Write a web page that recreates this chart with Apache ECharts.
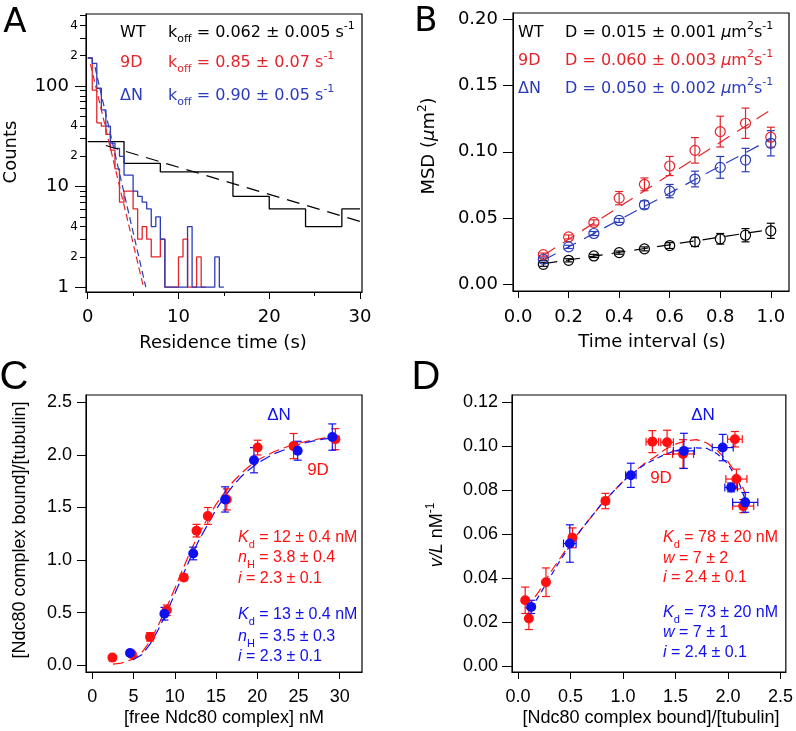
<!DOCTYPE html>
<html><head><meta charset="utf-8">
<script src="https://cdn.jsdelivr.net/npm/echarts@6/dist/echarts.min.js"></script>
<style>html,body{margin:0;padding:0;background:#fff}#c{width:796px;height:731px}</style>
</head><body><div id="c"></div>
<script>
// ================= DATA =================
// Panel A: residence time histograms (bin edges in s, counts per bin)
const wtEdges = [0,4,8,12,16,20,24,28,30];
const wtCounts = [28,17,14,14,8,6,4,6];
const d9Edges = [0,0.5,1,1.5,2,2.5,3,3.5,4,4.5,5,5.5,6,6.5,7,7.5,8,8.5,9,9.5,10,10.5,11,11.5,12,12.5,13];
const d9Counts = [190,91,43,40,33,23,15,7,9,9,6,3,4,3,2,2,3,1,1,1,2,3,1,1,2,1];
const dnEdges = [0,0.5,1,1.5,2,2.5,3,3.5,4,4.5,5,5.5,6,6.5,7,7.5,8,8.5,9,9.5,10,10.5,11,11.5,12,12.5,13,13.5,14,14.5,15];
const dnCounts = [190,168,95,58,40,27,24,20,13,13,9,8,7,6,4,5,3,1,1,1,1,1,4,1,1,1,1,1,2,1];
const wtFitA = [[2,25.6],[30,4.5]];
const d9FitA = [[0.3,165],[6.15,1]];
const dnFitA = [[0.8,154],[6.4,1]];
const aXTicks = [0,10,20,30];
const aXMinor = [5,15,25];
const aYMajor = [1,10,100];
const aYMinorLabels = [2,4,20,40,200,400];
const aYMinorTicks = [2,3,4,5,6,7,8,9,20,30,40,50,60,70,80,90,200,300,400,500];

// Panel B: MSD vs time interval
const msdTime = [0.1,0.2,0.3,0.4,0.5,0.6,0.7,0.8,0.9,1.0];
const msdWT = [0.0153,0.0183,0.0216,0.0241,0.0269,0.0294,0.0322,0.0345,0.0372,0.0405];
const msdWTErr = [0.0015,0.0012,0.0012,0.0012,0.0015,0.0022,0.0035,0.004,0.005,0.0057];
const msd9D = [0.0226,0.0359,0.0468,0.0651,0.0755,0.0893,0.1011,0.1152,0.1215,0.111];
const msd9DErr = [0.0012,0.0015,0.002,0.005,0.0048,0.0072,0.0096,0.0116,0.0114,0.0075];
const msdDN = [0.0191,0.0284,0.0385,0.0483,0.0601,0.0704,0.0795,0.0883,0.0938,0.1064];
const msdDNErr = [0.001,0.0012,0.0015,0.0015,0.003,0.005,0.0059,0.0082,0.0088,0.0095];
const wtFitB = [[0.1,0.0157],[1.0,0.0415]];
const d9FitB = [[0.1,0.022],[1.0,0.1315]];
const dnFitB = [[0.1,0.0183],[1.0,0.1095]];
const bXTicks = [0,0.2,0.4,0.6,0.8,1.0];
const bYTicks = [0,0.05,0.1,0.15,0.2];

// Panel C: binding curve
const cFree9D = [2.43,4.8,7.0,9.03,11.09,12.63,14.0,16.3,20.04,24.4,29.47];
const cBound9D = [0.073,0.104,0.27,0.523,0.834,1.28,1.42,1.577,2.07,2.084,2.15];
const cErr9D = [0.015,0.015,0.04,0.05,0.03,0.06,0.08,0.1,0.07,0.12,0.1];
const cFreeDN = [4.57,8.74,12.23,16.1,19.6,24.9,29.1];
const cBoundDN = [0.117,0.49,1.063,1.577,1.95,2.04,2.17];
const cErrDN = [0.01,0.06,0.06,0.12,0.12,0.09,0.125];
const cFit9DX = [2.5,3.5,5,6,7,8,9,10,11,12,13,14,15,16,17,18,19,20,22,24,26,28,30];
const cFit9DY = [0.01,0.02,0.06,0.12,0.23,0.38,0.55,0.73,0.92,1.1,1.26,1.4,1.53,1.64,1.74,1.82,1.89,1.95,2.03,2.09,2.13,2.16,2.18];
const cFitDNX = [4.9,6,7,8,9,10,11,12,13,14,15,16,17,18,19,20,22,24,26,28,30];
const cFitDNY = [0.05,0.1,0.2,0.34,0.5,0.68,0.86,1.04,1.2,1.34,1.48,1.6,1.7,1.79,1.86,1.92,2.01,2.07,2.12,2.15,2.17];
const cXTicks = [0,5,10,15,20,25,30];
const cYTicks = [0,0.5,1.0,1.5,2.0,2.5];

// Panel D: Scatchard-type plot
const dX9D = [0.069,0.104,0.267,0.519,0.833,1.28,1.42,1.572,2.066,2.08,2.145];
const dY9D = [0.030,0.0217,0.0382,0.0584,0.0751,0.1021,0.1018,0.0965,0.1032,0.0851,0.0728];
const dXErr9D = [0.01,0.01,0.02,0.03,0.03,0.06,0.06,0.1,0.07,0.1,0.1];
const dYErr9D = [0.006,0.005,0.0065,0.0045,0.0035,0.005,0.0055,0.0065,0.0035,0.0045,0.003];
const dXDN = [0.126,0.494,1.075,1.58,1.95,2.03,2.164];
const dYDN = [0.027,0.0558,0.0868,0.0979,0.0994,0.0813,0.0745];
const dXErrDN = [0.015,0.06,0.05,0.1,0.1,0.06,0.12];
const dYErrDN = [0.003,0.0085,0.0055,0.008,0.006,0.002,0.0045];
const dFit9DX = [0.08,0.2,0.3,0.4,0.5,0.6,0.7,0.8,0.9,1.0,1.1,1.2,1.3,1.4,1.5,1.6,1.7,1.8,1.9,2.0,2.1,2.17];
const dFit9DY = [0.026,0.034,0.042,0.049,0.056,0.062,0.068,0.074,0.079,0.084,0.088,0.092,0.095,0.0985,0.101,0.1025,0.103,0.1015,0.098,0.093,0.086,0.078];
const dFitDNX = [0.12,0.2,0.3,0.4,0.5,0.6,0.7,0.8,0.9,1.0,1.1,1.2,1.3,1.4,1.5,1.6,1.7,1.8,1.9,2.0,2.1,2.17];
const dFitDNY = [0.026,0.032,0.04,0.048,0.055,0.062,0.068,0.074,0.079,0.084,0.088,0.0915,0.094,0.0963,0.098,0.099,0.0993,0.099,0.0965,0.092,0.084,0.075];
const dXTicks = [0,0.5,1.0,1.5,2.0,2.5];
const dYTicks = [0,0.02,0.04,0.06,0.08,0.10,0.12];

// ================= STYLE =================
const FA = 'DejaVu Sans', FC = 'Liberation Sans';
const RED_AB = '#e3242b', BLUE_AB = '#2a3cb8';
const RED_CD = '#ff1010', BLUE_CD = '#1010ee';

function stepData(edges, counts) {
  return edges.map((e, i) => [e, counts[Math.min(i, counts.length - 1)]]);
}
function zip(xs, ys) { return xs.map((x, i) => [x, ys[i]]); }

function valAxis(o) {
  return {
    type: 'value', gridIndex: o.grid, min: o.min, max: o.max, position: o.pos,
    splitLine: {show: false},
    axisLine: {show: o.line !== false, onZero: false, lineStyle: {color: '#000', width: 1}},
    axisTick: {show: true, inside: false, length: o.tickLen, customValues: o.ticks, lineStyle: {color: '#000', width: 1}},
    axisLabel: o.labels ? {show: true, customValues: o.labels, formatter: o.fmt, margin: o.margin,
      color: '#000', fontFamily: o.ff, fontSize: o.fs} : {show: false}
  };
}

const xAxes = [
  valAxis({grid:0, pos:'bottom', min:-0.19, max:30.22, ticks:aXTicks, labels:aXTicks, tickLen:7, fmt:v=>String(v), margin:16, ff:FA, fs:18}),
  valAxis({grid:0, pos:'bottom', min:-0.19, max:30.22, ticks:aXMinor, tickLen:4, line:false}),
  valAxis({grid:1, pos:'bottom', min:-0.02, max:1.072, ticks:bXTicks, labels:bXTicks, tickLen:7, fmt:v=>v.toFixed(1), margin:17, ff:FA, fs:18}),
  valAxis({grid:2, pos:'bottom', min:-0.77, max:32.7, ticks:cXTicks, labels:cXTicks, tickLen:7, fmt:v=>String(v), margin:16, ff:FC, fs:18}),
  valAxis({grid:3, pos:'bottom', min:-0.0566, max:2.551, ticks:dXTicks, labels:dXTicks, tickLen:7, fmt:v=>v.toFixed(1), margin:16, ff:FC, fs:18})
];
const lg = v => Math.log10(v);
const yAxes = [
  {type:'log', logBase:10, gridIndex:0, min:0.895, max:520, position:'left', show:false},
  valAxis({grid:0, pos:'left', min:lg(0.895), max:lg(520), ticks:aYMajor.map(lg), labels:aYMajor.map(lg), tickLen:11,
    fmt:v=>String(Math.round(Math.pow(10, v))), margin:17, ff:FA, fs:18}),
  valAxis({grid:0, pos:'left', min:lg(0.895), max:lg(520), ticks:aYMinorTicks.map(lg), labels:aYMinorLabels.map(lg), tickLen:6,
    fmt:v=>String(Math.round(Math.pow(10, v))).charAt(0), margin:8, ff:FA, fs:12, line:false}),
  valAxis({grid:1, pos:'left', min:-0.0048, max:0.2045, ticks:bYTicks, labels:bYTicks, tickLen:10, fmt:v=>v.toFixed(2), margin:15, ff:FA, fs:18}),
  valAxis({grid:2, pos:'left', min:-0.064, max:2.57, ticks:cYTicks, labels:cYTicks, tickLen:9, fmt:v=>v.toFixed(1), margin:14, ff:FC, fs:18}),
  valAxis({grid:3, pos:'left', min:-0.0026, max:0.1233, ticks:dYTicks, labels:dYTicks, tickLen:10, fmt:v=>v.toFixed(2), margin:14, ff:FC, fs:18})
];

function lineSeries(xi, yi, data, color, width, dash, extra) {
  return Object.assign({
    type:'line', xAxisIndex:xi, yAxisIndex:yi, data, symbol:'none', showSymbol:false, silent:true,
    lineStyle:{color, width, type: dash || 'solid'}, itemStyle:{color}, animation:false, z:2
  }, extra || {});
}
function errorBars(xi, yi, xs, ys, xerr, yerr, color, cap, lw) {
  const data = xs.map((x, i) => [x, ys[i], xerr ? xerr[i] : 0, yerr ? yerr[i] : 0]);
  return {
    type:'custom', xAxisIndex:xi, yAxisIndex:yi, data, silent:true, z:3,
    dimensions:['x','y','ex','ey'], encode:{x:0, y:1},
    renderItem(params, api) {
      const x = api.value(0), y = api.value(1), ex = api.value(2), ey = api.value(3);
      const st = {stroke: color, lineWidth: lw || 1.2, fill: null};
      const ch = [];
      const L = (a, b) => ch.push({type:'line', shape:{x1:a[0], y1:a[1], x2:b[0], y2:b[1]}, style:st});
      if (ey > 0) {
        const a = api.coord([x, y + ey]), b = api.coord([x, y - ey]);
        L(a, b); L([a[0]-cap, a[1]], [a[0]+cap, a[1]]); L([b[0]-cap, b[1]], [b[0]+cap, b[1]]);
      }
      if (ex > 0) {
        const a = api.coord([x - ex, y]), b = api.coord([x + ex, y]);
        L(a, b); L([a[0], a[1]-cap], [a[0], a[1]+cap]); L([b[0], b[1]-cap], [b[0], b[1]+cap]);
      }
      return {type:'group', children: ch};
    }
  };
}
function scatter(xi, yi, xs, ys, color, open, size) {
  return {
    type:'scatter', xAxisIndex:xi, yAxisIndex:yi, data: zip(xs, ys), symbol:'circle', symbolSize:size, silent:true, z:4,
    itemStyle: open ? {color:'rgba(0,0,0,0)', borderColor:color, borderWidth:1.2, opacity:1}
                    : {color:color, borderWidth:0, opacity:1}
  };
}

const series = [
  // A
  lineSeries(0, 0, stepData(wtEdges, wtCounts), '#000', 1.3, null, {step:'end'}),
  lineSeries(0, 0, stepData(d9Edges, d9Counts), RED_AB, 1.3, null, {step:'end'}),
  lineSeries(0, 0, stepData(dnEdges, dnCounts), BLUE_AB, 1.3, null, {step:'end'}),
  lineSeries(0, 0, wtFitA, '#000', 1.2, [13,8]),
  lineSeries(0, 0, d9FitA, RED_AB, 1.2, [7,4]),
  lineSeries(0, 0, dnFitA, BLUE_AB, 1.2, [7,4]),
  // B
  lineSeries(2, 3, wtFitB, '#000', 1.2, [14,9]),
  lineSeries(2, 3, d9FitB, RED_AB, 1.2, [14,9]),
  lineSeries(2, 3, dnFitB, BLUE_AB, 1.2, [14,9]),
  errorBars(2, 3, msdTime, msdWT, null, msdWTErr, '#000', 4, 1.2),
  errorBars(2, 3, msdTime, msd9D, null, msd9DErr, RED_AB, 4, 1.2),
  errorBars(2, 3, msdTime, msdDN, null, msdDNErr, BLUE_AB, 4, 1.2),
  scatter(2, 3, msdTime, msdWT, '#000', true, 10),
  scatter(2, 3, msdTime, msd9D, RED_AB, true, 10),
  scatter(2, 3, msdTime, msdDN, BLUE_AB, true, 10),
  // C
  lineSeries(3, 4, zip(cFit9DX, cFit9DY), RED_CD, 1.2, [11,5]),
  lineSeries(3, 4, zip(cFitDNX, cFitDNY), BLUE_CD, 1.2, [11,5]),
  errorBars(3, 4, cFree9D, cBound9D, null, cErr9D, RED_CD, 4, 1.2),
  scatter(3, 4, cFree9D, cBound9D, RED_CD, false, 10),
  errorBars(3, 4, cFreeDN, cBoundDN, null, cErrDN, BLUE_CD, 4, 1.2),
  scatter(3, 4, cFreeDN, cBoundDN, BLUE_CD, false, 10),
  // D
  lineSeries(4, 5, zip(dFit9DX, dFit9DY), RED_CD, 1.2, [10,5]),
  lineSeries(4, 5, zip(dFitDNX, dFitDNY), BLUE_CD, 1.2, [6,4]),
  errorBars(4, 5, dX9D, dY9D, dXErr9D, dYErr9D, RED_CD, 4, 1.2),
  scatter(4, 5, dX9D, dY9D, RED_CD, false, 10),
  errorBars(4, 5, dXDN, dYDN, dXErrDN, dYErrDN, BLUE_CD, 4, 1.2),
  scatter(4, 5, dXDN, dYDN, BLUE_CD, false, 10)
];

// ================= TEXT =================
const G = [];
function richSet(color, ff, fs, sfs) {
  return {
    n:{fill:color, fontFamily:ff, fontSize:fs, lineHeight:24},
    i:{fill:color, fontFamily:ff, fontSize:fs, fontStyle:'italic', lineHeight:24},
    sb:{fill:color, fontFamily:ff, fontSize:sfs, lineHeight:sfs+1, verticalAlign:'bottom'},
    sp:{fill:color, fontFamily:ff, fontSize:sfs, lineHeight:sfs+1, verticalAlign:'top'}
  };
}
function txt(x, y, text, o) {
  o = o || {};
  const al = o.align || 'center';
  const st = {
    text, fill:o.fill || '#000', fontFamily:o.ff || FA, fontSize:o.fs || 18,
    fontStyle:o.italic ? 'italic' : 'normal',
    align:al, textAlign:al, verticalAlign:'middle', textVerticalAlign:'middle'
  };
  if (o.rich) st.rich = o.rich;
  G.push({type:'text', x, y, rotation:o.rot || 0, silent:true, z:100, style:st});
}
const R90 = Math.PI / 2;
// panel letters
txt(15, 23, 'A', {fs:34});
txt(426, 22, 'B', {fs:34});
txt(14, 378, 'C', {ff:FC, fs:40});
txt(426, 378, 'D', {ff:FC, fs:40});
// axis titles
txt(223, 343, 'Residence time (s)', {fs:18});
txt(11, 152, 'Counts', {fs:18, rot:R90});
txt(652, 342, 'Time interval (s)', {fs:18});
txt(429, 146, '{n|MSD (}{i|μ}{n|m}{sp|2}{n|)}', {rot:R90, rich:richSet('#000', FA, 18, 12)});
txt(224, 718, '[free Ndc80 complex] nM', {ff:FC, fs:18});
txt(20, 530, '[Ndc80 complex bound]/[tubulin]', {ff:FC, fs:18, rot:R90});
txt(651, 718, '[Ndc80 complex bound]/[tubulin]', {ff:FC, fs:18});
txt(437, 535, '{i|v/L}{n| nM}{sp|-1}', {rot:R90, rich:richSet('#000', FC, 18, 12)});
// legend A
const legA = [['WT', '0.062 ± 0.005', '#000', 33], ['9D', '0.85 ± 0.07', RED_AB, 63], ['ΔN', '0.90 ± 0.05', BLUE_AB, 96]];
legA.forEach(r => {
  txt(120, r[3], r[0], {align:'left', fill:r[2], fs:16});
  txt(168, r[3], '{n|k}{sb|off}{n| = ' + r[1] + ' s}{sp|-1}', {align:'left', rich:richSet(r[2], FA, 16, 11)});
});
// legend B
const legB = [['WT', '0.015 ± 0.001', '#000', 33], ['9D', '0.060 ± 0.003', RED_AB, 61], ['ΔN', '0.050 ± 0.002', BLUE_AB, 89]];
legB.forEach(r => {
  txt(518, r[3], r[0], {align:'left', fill:r[2], fs:16});
  txt(565, r[3], '{n|D = ' + r[1] + ' }{i|μ}{n|m}{sp|2}{n|s}{sp|-1}', {align:'left', rich:richSet(r[2], FA, 16, 11)});
});
// panel C annotations
txt(279, 415, 'ΔN', {ff:FC, fs:17, fill:BLUE_CD});
txt(318, 470, '9D', {ff:FC, fs:17, fill:RED_CD});
const rc = richSet(RED_CD, FC, 16, 11), bc = richSet(BLUE_CD, FC, 16, 11);
txt(238, 538, '{i|K}{sb|d}{n| = 12 ± 0.4 nM}', {align:'left', rich:rc});
txt(238, 558, '{i|n}{sb|H}{n| = 3.8 ± 0.4}', {align:'left', rich:rc});
txt(238, 579, '{i|i}{n| = 2.3 ± 0.1}', {align:'left', rich:rc});
txt(238, 615, '{i|K}{sb|d}{n| = 13 ± 0.4 nM}', {align:'left', rich:bc});
txt(238, 637, '{i|n}{sb|H}{n| = 3.5 ± 0.3}', {align:'left', rich:bc});
txt(238, 657, '{i|i}{n| = 2.3 ± 0.1}', {align:'left', rich:bc});
// panel D annotations
txt(703, 415, 'ΔN', {ff:FC, fs:17, fill:BLUE_CD});
txt(661, 478, '9D', {ff:FC, fs:17, fill:RED_CD});
txt(663, 538, '{i|K}{sb|d}{n| = 78 ± 20 nM}', {align:'left', rich:rc});
txt(663, 559, '{i|w}{n| = 7 ± 2}', {align:'left', rich:rc});
txt(663, 578, '{i|i}{n| = 2.4 ± 0.1}', {align:'left', rich:rc});
txt(663, 613, '{i|K}{sb|d}{n| = 73 ± 20 nM}', {align:'left', rich:bc});
txt(663, 633, '{i|w}{n| = 7 ± 1}', {align:'left', rich:bc});
txt(663, 653, '{i|i}{n| = 2.4 ± 0.1}', {align:'left', rich:bc});

const gridBox = (l, t, w, h) => ({left:l, top:t, width:w, height:h, show:true, borderColor:'#000', borderWidth:1.2, backgroundColor:'rgba(0,0,0,0)', containLabel:false});

const option = {
  animation:false,
  backgroundColor:'#fff',
  textStyle:{fontFamily:FA},
  grid:[gridBox(86,14,276,278), gridBox(513,13,276,278), gridBox(86,395,276,277), gridBox(512,395,277,277)],
  xAxis:xAxes,
  yAxis:yAxes,
  series:series,
  graphic:{elements:G}
};
const chart = echarts.init(document.getElementById('c'), null, {renderer:'canvas', width:796, height:731});
chart.setOption(option);
</script>
</body></html>
